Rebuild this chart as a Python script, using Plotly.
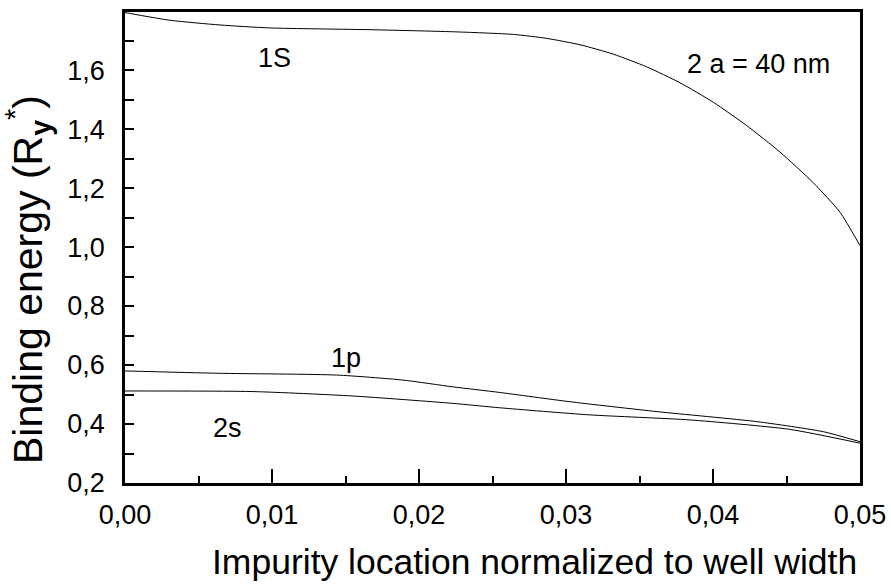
import plotly.graph_objects as go

# Data
x_1s = [0.0, 0.00306, 0.00646, 0.00986, 0.01667, 0.0223, 0.02642, 0.02869, 0.03095, 0.03322,
        0.03549, 0.03776, 0.04002, 0.04229, 0.04456, 0.04682, 0.04864, 0.05]
y_1s = [1.795, 1.769, 1.753, 1.743, 1.737, 1.730, 1.721, 1.7075, 1.686, 1.654,
        1.611, 1.557, 1.491, 1.412, 1.322, 1.218, 1.118, 1.005]

x_1p = [0.0, 0.0064, 0.0144, 0.0189, 0.0223, 0.0255, 0.0302, 0.0362, 0.0430, 0.0475, 0.05]
y_1p = [0.580, 0.572, 0.566, 0.549, 0.526, 0.507, 0.476, 0.442, 0.408, 0.374, 0.340]

x_2s = [0.0, 0.0087, 0.0155, 0.0223, 0.0255, 0.0316, 0.0384, 0.0452, 0.05]
y_2s = [0.512, 0.510, 0.495, 0.470, 0.455, 0.431, 0.414, 0.382, 0.335]

labels = ["1S", "1p", "2s", "2 a = 40 nm"]
label_x = [0.0102, 0.0150, 0.0070, 0.0431]
label_y = [1.641, 0.624, 0.386, 1.620]

x_ticks = [0.0, 0.01, 0.02, 0.03, 0.04, 0.05]
y_ticks = [0.2, 0.4, 0.6, 0.8, 1.0, 1.2, 1.4, 1.6]

x_title = "Impurity location normalized to well width"
y_title = "Binding energy (R<sub><b>y</b></sub><sup>*</sup>)"

FONT = "Liberation Sans, Arial, sans-serif"

fig = go.Figure()
for xs, ys in [(x_1s, y_1s), (x_1p, y_1p), (x_2s, y_2s)]:
    fig.add_trace(go.Scatter(x=xs, y=ys, mode="lines",
                             line=dict(color="black", width=1, shape="spline", smoothing=0.6),
                             showlegend=False, hoverinfo="skip"))

for t, lx, ly in zip(labels, label_x, label_y):
    fig.add_annotation(x=lx, y=ly, text=t, showarrow=False,
                       font=dict(family=FONT, size=27, color="black"))

fig.add_annotation(xref="paper", yref="paper", x=0.5578, y=-0.1677, text=x_title,
                   showarrow=False, xanchor="center", yanchor="middle",
                   font=dict(family=FONT, size=35.5, color="black"))
fig.add_annotation(xref="paper", yref="paper", x=-0.132, y=0.433, text=y_title,
                   showarrow=False, xanchor="center", yanchor="middle", textangle=-90,
                   font=dict(family=FONT, size=41, color="black"))

fig.update_layout(
    width=891, height=587,
    margin=dict(l=125, r=31, t=12, b=104, autoexpand=False),
    paper_bgcolor="white", plot_bgcolor="white",
    separators=",.",
    font=dict(family=FONT, color="black"),
)
fig.update_xaxes(
    range=[0, 0.05], tickvals=x_ticks, tickformat=".2f",
    ticks="inside", ticklen=14, tickwidth=2, tickcolor="black",
    minor=dict(dtick=0.005, ticks="inside", ticklen=7, tickwidth=2, tickcolor="black"),
    showline=True, linewidth=2.5, linecolor="black", mirror=True,
    showgrid=False, zeroline=False, automargin=False,
    tickfont=dict(size=27, family=FONT), ticklabelstandoff=6,
)
fig.update_yaxes(
    range=[0.2, 1.797], tickvals=y_ticks, tickformat=".1f",
    ticks="inside", ticklen=9, tickwidth=2, tickcolor="black",
    minor=dict(dtick=0.1, tick0=0.2, ticks="inside", ticklen=9, tickwidth=2, tickcolor="black"),
    showline=True, linewidth=2.5, linecolor="black", mirror=True,
    showgrid=False, zeroline=False, automargin=False,
    tickfont=dict(size=27, family=FONT), ticklabelstandoff=12,
)

fig.write_html("out.html", config={"displayModeBar": False},
               post_script="document.body.style.margin='0px';")
